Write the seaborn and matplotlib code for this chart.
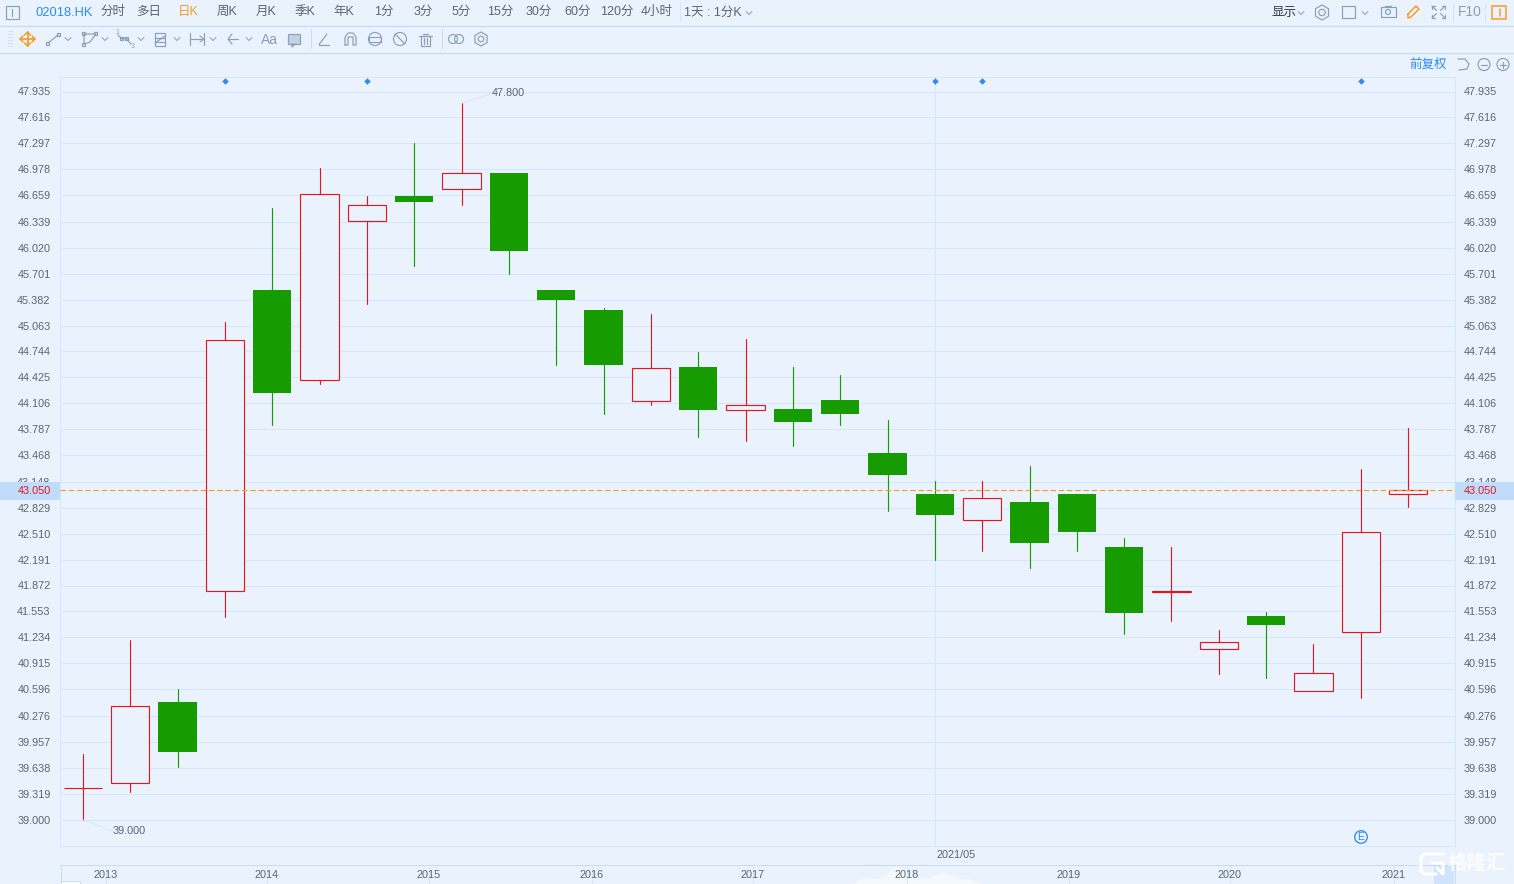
import matplotlib
matplotlib.use("Agg")
import matplotlib.pyplot as plt
from matplotlib.patches import Rectangle, Circle, RegularPolygon
import numpy as np
import pandas as pd
import seaborn as sns

opens = [39.39,39.45,40.44,41.80,45.50,44.40,46.35,46.65,46.74,46.94,45.50,45.25,44.14,44.55,44.03,44.04,44.15,43.50,43.00,42.68,42.90,43.00,42.35,41.79,41.09,41.50,40.58,41.30,42.99]
closes = [39.39,40.39,39.83,44.89,44.24,46.68,46.54,46.58,46.94,45.98,45.38,44.58,44.54,44.03,44.09,43.88,43.98,43.23,42.74,42.94,42.39,42.53,41.54,41.80,41.18,41.39,40.80,42.53,43.04]
highs = [39.80,41.20,40.60,45.10,46.50,47.00,46.65,47.30,47.80,46.94,45.50,45.28,45.20,44.74,44.90,44.55,44.45,43.90,43.15,43.15,43.34,43.00,42.45,42.35,41.33,41.55,41.15,43.30,43.80]
lows = [39.00,39.34,39.64,41.49,43.84,44.34,45.33,45.79,46.54,45.69,44.58,43.98,44.09,43.69,43.64,43.59,43.84,42.79,42.19,42.29,42.09,42.29,41.28,41.44,40.79,40.74,40.58,40.49,42.84]
y_ticks = [39.000,39.319,39.638,39.957,40.276,40.596,40.915,41.234,41.553,41.872,42.191,42.510,42.829,43.148,43.468,43.787,44.106,44.425,44.744,45.063,45.382,45.701,46.020,46.339,46.659,46.978,47.297,47.616,47.935]
years = ["2013","2014","2015","2016","2017","2018","2019","2020","2021"]
year_px = [106,267,429,592,753,907,1069,1230,1394]
event_idx = [3,6,18,19,27]
last_price = 43.05
top_menu = ["分时","多日","日K","周K","月K","季K","年K","1分","3分","5分","15分","30分","60分","120分","4小时"]
top_menu_px = [113,149,188,227,266,305,344,384,423,461,500,539,578,617,657]

BG = "#eaf3fd"; GRID = "#d3e6fb"; BORDER = "#c4dcf5"; TXT = "#5d6470"
RED = "#e8141c"; GREEN = "#169c00"; ICON = "#8aa0b8"; BLUE = "#2a8cf0"; ORANGE = "#f59a23"

sns.set_theme(style="white")
plt.rcParams["font.family"] = ["Liberation Sans", "Noto Sans CJK SC", "DejaVu Sans"]
W, H = 1514, 884
PX = 0.72
fig = plt.figure(figsize=(W/100, H/100), dpi=100, facecolor=BG)

L, R, T, B = 60, 1454.5, 77, 845.5
ax = fig.add_axes([L/W, 1-B/H, (R-L)/W, (B-T)/H], facecolor=BG)

df = pd.DataFrame({"i": range(len(opens)), "o": opens, "c": closes, "h": highs, "l": lows})
df["up"] = df.c >= df.o
wick = pd.concat([df.assign(price=df.h), df.assign(price=df.l)])
sns.lineplot(data=wick, x="i", y="price", units="i", estimator=None, hue="up",
             palette={True: RED, False: GREEN}, lw=PX*1.15, legend=False, ax=ax, zorder=3, sort=False)

for _, r in df.iterrows():
    lo, hi = min(r.o, r.c), max(r.o, r.c)
    if r.up:
        ax.bar(r.i, hi-lo, bottom=lo, width=0.81, facecolor=BG, edgecolor=RED, lw=PX*1.15, zorder=4)
    else:
        ax.bar(r.i, hi-lo, bottom=lo, width=0.81, facecolor=GREEN, edgecolor="none", zorder=4)

ax.set_xlim(-0.486, 28.98)
ax.set_ylim(38.681, 48.113)
ax.set_xlabel(""); ax.set_ylabel("")
ax.set_xticks([])
ax.set_yticks(y_ticks)
ax.set_yticklabels([])
ax.tick_params(axis="y", length=0)
ax.grid(axis="y", color=GRID, lw=PX)
ax.set_axisbelow(True)
for s in ax.spines.values():
    s.set_color(GRID); s.set_linewidth(PX)

ax.axvline(18, color=GRID, lw=PX, zorder=1)
ax.axhline(last_price, color=ORANGE, lw=PX*1.1, ls=(0, (5, 2.5)), zorder=5)
sns.scatterplot(x=event_idx, y=[48.07]*len(event_idx), marker="D", s=11, color=BLUE, edgecolor=BLUE, lw=0, ax=ax, zorder=6, legend=False)

# Chrome overlay in pixel coordinates
ov = fig.add_axes([0, 0, 1, 1], facecolor="none")
ov.set_xlim(0, W); ov.set_ylim(H, 0); ov.axis("off")

def ytxt(v):
    return 820.5 - (v-39)*728/8.935
FS = 7.8
for v in y_ticks:
    y = ytxt(v)
    ov.text(50.5, y, f"{v:.3f}", ha="right", va="center", fontsize=FS, color=TXT, zorder=3)
    ov.text(1464, y, f"{v:.3f}", ha="left", va="center", fontsize=FS, color=TXT, zorder=3)

yl = ytxt(last_price)
ov.add_patch(Rectangle((0, yl-9), L, 18, fc="#c0dcfb", ec="none", zorder=5))
ov.add_patch(Rectangle((1455, yl-9), 59, 18, fc="#c0dcfb", ec="none", zorder=5))
ov.text(50.5, yl, "43.050", ha="right", va="center", fontsize=FS, color=RED, zorder=6)
ov.text(1464, yl, "43.050", ha="left", va="center", fontsize=FS, color=RED, zorder=6)

ov.text(492, 93, "47.800", ha="left", va="center", fontsize=FS, color=TXT)
ov.plot([462, 491], [103, 94], color=GRID, lw=PX)
ov.text(113, 830.5, "39.000", ha="left", va="center", fontsize=FS, color=TXT)
ov.plot([83, 112], [820, 831], color=GRID, lw=PX)
ov.text(956, 855.5, "2021/05", ha="center", va="center", fontsize=FS, color=TXT)

# bottom strip
cloud_x = [852,857,862,868,874,880,885,888,893,898,903,910,918,925,930,935,943,950,957,962,968,975,982,982,852]
cloud_y = [884,882,879,878,879,879,877,873,868,866,870,875,877,879,878,875,873,875,877,880,879,881,884,884,884]
ov.fill(cloud_x, cloud_y, color="#f4f9fe", lw=0, zorder=1)
ov.plot([60, 1454.5], [864.5, 864.5], color=BORDER, lw=PX)
ov.plot([60.5, 60.5], [865, 884], color=BORDER, lw=PX)
ov.plot([1454.5, 1454.5], [865, 884], color=BORDER, lw=PX)
ov.add_patch(Rectangle((1434, 865), 20, 19, fc="#cfe4fb", ec="none"))
ov.add_patch(Rectangle((61, 881), 19, 4, fc="white", ec=BORDER, lw=PX))
for x, s in zip(year_px, years):
    ov.plot([x, x], [865, 884], color=GRID, lw=PX, zorder=2)
    ov.text(x, 874.5, s, ha="center", va="center", fontsize=FS, color=TXT, zorder=4)

# top bars
ov.plot([0, W], [25.5, 25.5], color=BORDER, lw=PX*1.2)
ov.plot([0, W], [52.5, 52.5], color=BORDER, lw=PX*1.2)
ov.text(35, 12.5, "02018.HK", ha="left", va="center", fontsize=9.3, color=BLUE)
for x, s in zip(top_menu_px, top_menu):
    ov.text(x, 12, s, ha="center", va="center", fontsize=9, color=ORANGE if s == "日K" else TXT)
ov.text(684, 13, "1天 : 1分K", ha="left", va="center", fontsize=9, color=TXT)
ov.text(1271, 13, "显示", ha="left", va="center", fontsize=9, color="#333a44")
ov.text(1458, 12.5, "F10", ha="left", va="center", fontsize=10, color=ICON)
ov.text(1409, 65, "前复权", ha="left", va="center", fontsize=9, color=BLUE)
ov.text(261, 39.5, "Aa", ha="left", va="center", fontsize=10, color=ICON)

def chev(x, y, c=ICON):
    ov.plot([x-3, x, x+3], [y-1.5, y+1.5, y-1.5], color=c, lw=PX)
for x, y in [(749, 13), (1301, 13), (1365, 13), (68, 39), (105, 39), (141, 39), (177, 39), (213, 39), (249, 39)]:
    chev(x, y)
for x in [679.5, 1452.5, 1484.5]:
    ov.plot([x, x], [3, 22], color=GRID, lw=PX)
ov.plot([310.5, 310.5], [29, 48], color=BORDER, lw=PX)
ov.plot([441.5, 441.5], [29, 48], color=BORDER, lw=PX)

def rect(x, y, w, h, c=ICON, lw=PX*1.2):
    ov.add_patch(Rectangle((x, y), w, h, fc="none", ec=c, lw=lw))
def circ(x, y, r, c=ICON, lw=PX*1.2):
    ov.add_patch(Circle((x, y), r, fc="none", ec=c, lw=lw))
def line(xs, ys, c=ICON, lw=PX*1.2):
    ov.plot(xs, ys, color=c, lw=lw)

rect(6, 6, 13, 13)
line([11.5, 11.5], [9, 16])
rect(1341.5, 6, 13, 12)
rect(1491.5, 5.5, 14, 13, ORANGE, PX*1.5)
line([1499.5, 1499.5], [9, 16], ORANGE, PX*1.5)
ov.add_patch(RegularPolygon((1322, 12.5), 6, radius=7.5, fc="none", ec=ICON, lw=PX*1.2))
circ(1322, 12.5, 3.2)
rect(1380.5, 7, 15, 10); circ(1388, 12, 2.5); line([1385, 1391], [6, 6])
line([1408, 1416, 1419, 1411, 1408, 1408], [14, 6, 9, 17, 18, 14], ORANGE, PX*1.5)
for sx, sy in [(1432, 6), (1445, 6), (1432, 18), (1445, 18)]:
    dx = 3 if sx == 1432 else -3
    dy = 3 if sy == 6 else -3
    line([sx+dx, sx, sx], [sy, sy, sy+dy])
    line([sx, sx+dx*1.5], [sy, sy+dy*1.5])
# drawing toolbar
line([27.5, 27.5], [32, 46], ORANGE, 1.2); line([20, 35], [39, 39], ORANGE, 1.2)
line([24.5, 27.5, 30.5], [35, 32, 35], ORANGE, 1.1); line([24.5, 27.5, 30.5], [43, 46, 43], ORANGE, 1.1)
line([23, 20, 23], [36, 39, 42], ORANGE, 1.1); line([32, 35, 32], [36, 39, 42], ORANGE, 1.1)
for yy in range(31, 48, 3):
    line([8, 12], [yy, yy], "#cfe0f2", PX)
line([48, 58], [43, 35]); rect(46, 42, 3, 3); rect(57, 33, 3, 3)
line([84, 84, 96, 90, 84], [44, 34, 34, 42, 44]); rect(82, 32, 3, 3); rect(94, 32, 3, 3); rect(82, 43, 3, 3)
line([118, 122, 126, 131], [35, 39, 38, 44]); rect(120, 37, 2.5, 2.5); rect(125, 37, 2.5, 2.5)
ov.text(117, 32, "1", fontsize=5, color=ICON, ha="center", va="center")
ov.text(133, 46, "3", fontsize=5, color=ICON, ha="center", va="center")
rect(155, 33, 10, 13); line([155, 165], [43, 36]); line([155, 165], [38, 38]); line([155, 165], [42, 42])
line([190, 204], [39, 39]); line([190, 190], [33, 45]); line([204, 204], [33, 45]); line([200, 204, 200], [36, 39, 42])
line([232, 228, 232], [34, 39, 44]); line([228, 238], [39, 39])
ov.add_patch(Rectangle((288, 33.5), 12, 10, fc="#c3d2e2", ec=ICON, lw=PX*1.2))
line([292, 292, 296], [43.5, 47, 43.5])
line([319, 329], [44.5, 44.5]); line([319, 327], [44.5, 34])
line([345, 345, 348, 353, 356, 356, 353, 353, 348, 348, 345], [45, 37, 33, 33, 37, 45, 45, 37, 37, 45, 45])
circ(375, 39, 6.5); rect(369, 36.5, 12, 5)
circ(400, 39, 6.5); line([395, 405], [34, 44])
rect(421, 36, 9, 10); line([419, 432], [36, 36]); line([423, 428], [33.5, 33.5]); line([424, 424], [38, 44]); line([427, 427], [38, 44])
circ(453, 39, 4.5); circ(459, 39, 4.5)
ov.add_patch(RegularPolygon((481, 39), 6, radius=7, fc="none", ec=ICON, lw=PX*1.2))
circ(481, 39, 2.8)
# zoom icons
line([1458, 1465, 1469, 1467, 1459], [59, 59, 64, 69, 70])
circ(1484, 64.5, 6); line([1481, 1487], [64.5, 64.5])
circ(1503, 64.5, 6); line([1500, 1506], [64.5, 64.5]); line([1503, 1503], [61.5, 67.5])
# E marker
circ(1361, 837, 6.3, BLUE, PX*1.3)
ov.text(1361, 837, "E", ha="center", va="center", fontsize=7.5, color=BLUE)
# watermark
ov.text(1448, 863, "格隆汇", ha="left", va="center", fontsize=14, color="white", fontweight="bold", alpha=0.85, zorder=8)
line([1444, 1424, 1421, 1421, 1424, 1436], [854, 854, 857, 871, 874, 874], "white", 2.2)
line([1432, 1443, 1443, 1437], [863, 863, 874, 868], "white", 2.2)

fig.savefig("out.png", dpi=100, facecolor=BG)
